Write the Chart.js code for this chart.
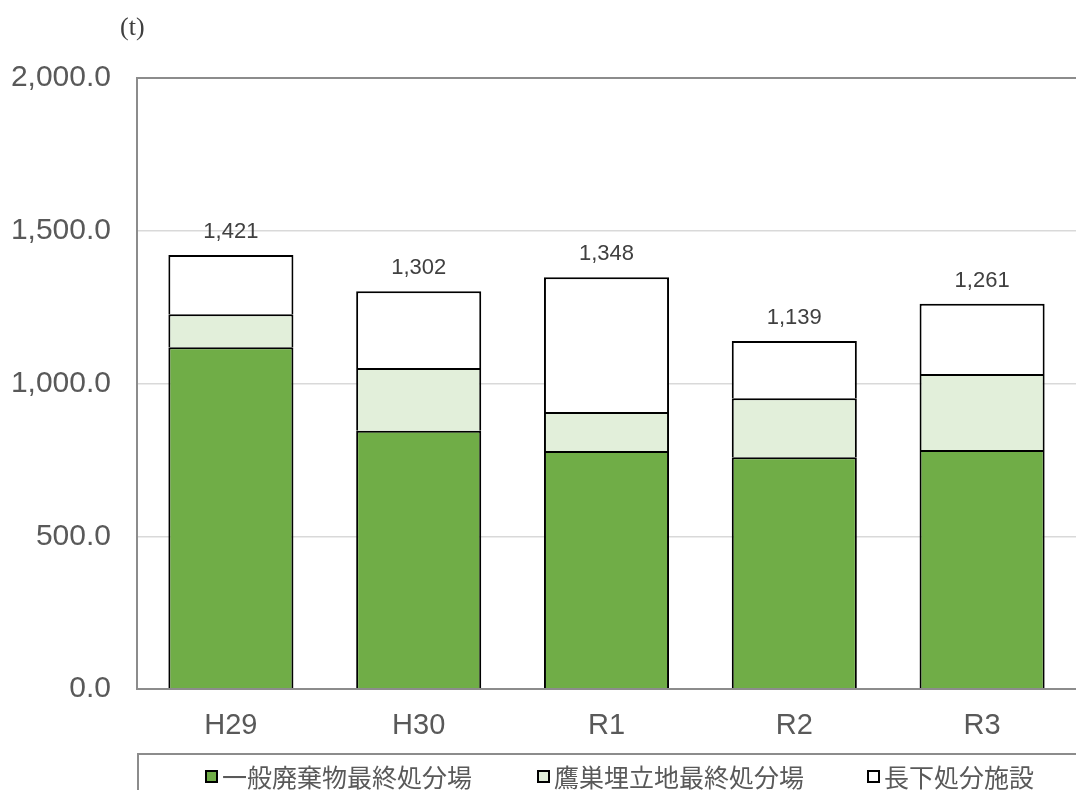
<!DOCTYPE html>
<html lang="ja">
<head>
<meta charset="utf-8">
<title>最終処分量の推移</title>
<script src="https://cdn.jsdelivr.net/npm/chart.js@4.4.0/dist/chart.umd.min.js"></script>
<style>
  body { margin: 0; background: #fff; }
  #wrap { position: relative; width: 1076px; height: 790px; overflow: hidden; }
  #unit {
    position: absolute; left: 120px; top: 12px;
    font-family: "Liberation Serif", "DejaVu Serif", serif;
    font-size: 26px; color: #404040;
  }
  #legend {
    position: absolute; left: 137px; top: 753px; width: 960px; height: 50px;
    border-top: 2px solid #8c8c8c; border-left: 2px solid #8c8c8c;
    font-family: "Noto Sans CJK JP", sans-serif; font-size: 25px; color: #595959;
  }
  .item { position: absolute; top: 3px; display: flex; align-items: center; white-space: nowrap; line-height: 36px; }
  .box { width: 9px; height: 9px; border: 2px solid #000; margin-right: 4px; }
</style>
</head>
<body>
<div id="wrap">
  <canvas id="waste-chart" width="1076" height="790"></canvas>
  <div id="unit">(t)</div>
  <div id="legend"></div>
</div>
<script>
const years = ["H29", "H30", "R1", "R2", "R3"];
const generalSite = [1119, 845, 779, 759, 782];
const takanosuSite = [108, 206, 128, 193, 249];
const nagashitaSite = [194, 251, 441, 187, 230];
const yTicks = [0, 500, 1000, 1500, 2000];

const seriesNames = ["一般廃棄物最終処分場", "鷹巣埋立地最終処分場", "長下処分施設"];
const seriesColors = ["#70AD47", "#E2EFDA", "#FFFFFF"];

Chart.defaults.font.family = "'Liberation Sans', Arial, sans-serif";

// totals printed above each stacked bar
const totalLabels = {
  id: 'totalLabels',
  afterDatasetsDraw(chart) {
    const ctx = chart.ctx;
    const top = chart.getDatasetMeta(chart.data.datasets.length - 1);
    ctx.save();
    ctx.font = "22px 'Liberation Sans', Arial, sans-serif";
    ctx.fillStyle = '#404040';
    ctx.textAlign = 'center';
    ctx.textBaseline = 'middle';
    years.forEach((y, i) => {
      const sum = generalSite[i] + takanosuSite[i] + nagashitaSite[i];
      const bar = top.data[i];
      ctx.fillText(sum.toLocaleString('en-US'), bar.x, bar.y - 23);
    });
    ctx.restore();
  }
};

// gray frame round the plot area
const plotFrame = {
  id: 'plotFrame',
  afterDraw(chart) {
    const a = chart.chartArea;
    const ctx = chart.ctx;
    ctx.save();
    ctx.strokeStyle = '#8c8c8c';
    ctx.lineWidth = 2;
    ctx.beginPath();
    ctx.moveTo(a.right + 5, a.top);
    ctx.lineTo(a.left, a.top);
    ctx.lineTo(a.left, a.bottom);
    ctx.lineTo(a.right + 5, a.bottom);
    ctx.stroke();
    ctx.restore();
  }
};

const datasets = [generalSite, takanosuSite, nagashitaSite].map((d, i) => ({
  label: seriesNames[i],
  data: d,
  backgroundColor: seriesColors[i],
  borderColor: '#000',
  borderWidth: 2,
  borderSkipped: 'start',
  categoryPercentage: 1,
  barPercentage: 0.666
}));

new Chart(document.getElementById('waste-chart'), {
  type: 'bar',
  data: { labels: years, datasets: datasets },
  options: {
    responsive: false,
    animation: false,
    layout: { padding: { top: 78, right: 0, left: 0, bottom: 0 } },
    plugins: { legend: { display: false }, tooltip: { enabled: false } },
    scales: {
      x: {
        stacked: true,
        grid: { display: false },
        border: { display: false },
        ticks: { color: '#595959', font: { size: 29 }, padding: 12 },
        afterFit(scale) { scale.height = 101; }
      },
      y: {
        stacked: true,
        min: 0,
        max: 2000,
        afterBuildTicks(scale) { scale.ticks = yTicks.map(v => ({ value: v })); },
        grid: { color: '#d9d9d9', lineWidth: 1.5, drawTicks: false },
        border: { display: false },
        ticks: {
          color: '#595959',
          font: { size: 30 },
          padding: 26,
          callback: v => v.toLocaleString('en-US', { minimumFractionDigits: 1, maximumFractionDigits: 1 })
        },
        afterFit(scale) { scale.width = 137; }
      }
    }
  },
  plugins: [totalLabels, plotFrame]
});

// legend row under the chart
const legend = document.getElementById('legend');
const legendLeft = [66, 398, 728];
seriesNames.forEach((name, i) => {
  const item = document.createElement('div');
  item.className = 'item';
  item.style.left = legendLeft[i] + 'px';
  item.innerHTML = `<span class="box" style="background:${seriesColors[i]}"></span><span>${name}</span>`;
  legend.appendChild(item);
});
</script>
</body>
</html>
